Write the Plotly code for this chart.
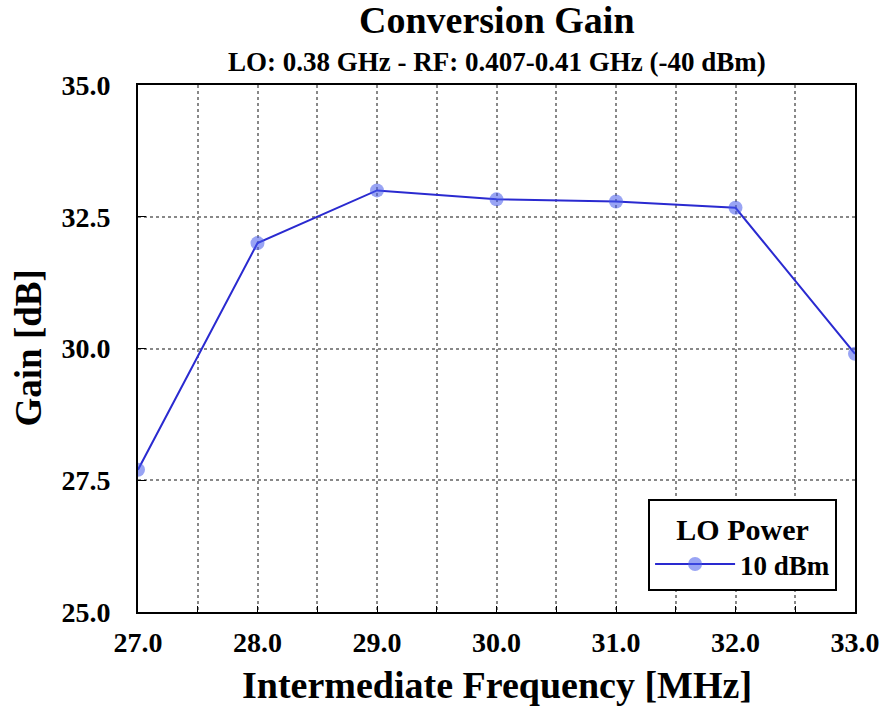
import plotly.graph_objects as go

freq_mhz = [27.0, 28.0, 29.0, 30.0, 31.0, 32.0, 33.0]
gain_db = [27.7, 32.0, 33.0, 32.83, 32.79, 32.67, 29.9]
x_ticks = [27.0, 28.0, 29.0, 30.0, 31.0, 32.0, 33.0]
y_ticks = [25.0, 27.5, 30.0, 32.5, 35.0]

FONT = "Liberation Serif"
W, H = 880, 708
ML, MR, MT, MB = 138, 25, 85, 96
plot_h = H - MT - MB

fig = go.Figure()
fig.add_trace(go.Scatter(
    x=freq_mhz, y=gain_db, mode="lines+markers", name="<b>10 dBm</b>",
    line=dict(color="#2a2ad0", width=2),
    marker=dict(size=14, color="rgba(70,90,235,0.55)", line=dict(width=0)),
    cliponaxis=True,
))

fig.update_layout(
    width=W, height=H,
    margin=dict(l=ML, r=MR, t=MT, b=MB, autoexpand=False),
    paper_bgcolor="white", plot_bgcolor="white",
    font=dict(family=FONT, color="black"),
    annotations=[
        dict(text="<b>Conversion Gain</b>", x=0.5, y=1 + (MT - 20) / plot_h, xref="paper", yref="paper",
             yanchor="middle", showarrow=False, font=dict(size=38, family=FONT)),
        dict(text="<b>LO: 0.38 GHz - RF: 0.407-0.41 GHz (-40 dBm)</b>", x=0.5, y=1 + (MT - 62) / plot_h,
             xref="paper", yref="paper", yanchor="middle", showarrow=False,
             font=dict(size=27, family=FONT)),
        dict(text="<b>Intermediate Frequency [MHz]</b>", x=0.5, y=0, xref="paper", yref="paper",
             yanchor="middle", yshift=-(685 - (H - MB)), showarrow=False,
             font=dict(size=38, family=FONT)),
        dict(text="<b>Gain [dB]</b>", x=0, y=0.5, xref="paper", yref="paper",
             xanchor="center", yanchor="middle", xshift=28 - ML, textangle=-90, showarrow=False,
             font=dict(size=37, family=FONT)),
    ],
    xaxis=dict(
        range=[27, 33], tickvals=x_ticks, ticktext=[f"<b>{v:.1f}</b>" for v in x_ticks],
        showgrid=False, zeroline=False,
        showline=True, linecolor="black", linewidth=2, mirror=True,
        ticks="inside", ticklen=6, tickcolor="black",
        minor=dict(dtick=0.5, tick0=27, showgrid=True, griddash="dot", gridcolor="#888",
                   gridwidth=1.5, ticks="inside", ticklen=6, tickcolor="black"),
        tickfont=dict(size=28, family=FONT),
        ticklabelstandoff=4,
    ),
    yaxis=dict(
        range=[25, 35], tickvals=y_ticks, ticktext=[f"<b>{v:.1f}</b>" for v in y_ticks],
        showgrid=True, griddash="dot", gridcolor="#888", gridwidth=1.5, zeroline=False,
        showline=True, linecolor="black", linewidth=2, mirror=True,
        ticks="inside", ticklen=8, tickcolor="black",
        tickfont=dict(size=28, family=FONT),
        ticklabelstandoff=20,
    ),
    showlegend=True,
    legend=dict(
        x=0.975, y=0.04, xanchor="right", yanchor="bottom",
        bgcolor="white", bordercolor="black", borderwidth=2,
        title=dict(text="<b>LO Power</b>", side="top center", font=dict(size=30, family=FONT)),
        font=dict(size=27, family=FONT),
        itemwidth=80,
    ),
)

fig.write_html("out.html")
